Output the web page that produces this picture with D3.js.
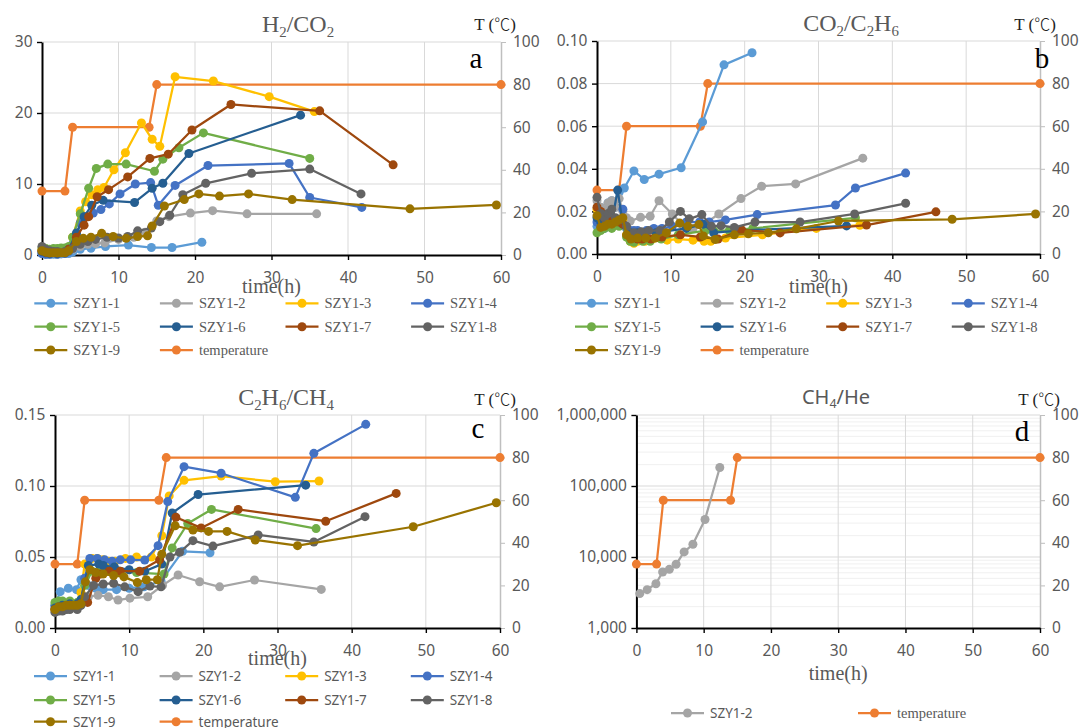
<!DOCTYPE html>
<html>
<head>
<meta charset="utf-8">
<script src="https://cdn.jsdelivr.net/npm/d3@7"></script>
<style>
  body { margin: 0; background: #fff; }
  svg { display: block; }
</style>
</head>
<body>
<svg id="chart" width="1082" height="728"></svg>
<script>
// ---- data -------------------------------------------------------------
const seriesNames = ["SZY1-1", "SZY1-2", "SZY1-3", "SZY1-4", "SZY1-5", "SZY1-6", "SZY1-7", "SZY1-8", "SZY1-9"];
const seriesColors = ["#5B9BD5", "#A5A5A5", "#FFC000", "#4472C4", "#70AD47", "#255E91", "#9E480E", "#636363", "#997300"];
const tempName = "temperature";
const tempColor = "#ED7D31";
const tempTime = [0, 3, 4, 14, 15, 60];
const tempValue = [30, 30, 60, 60, 80, 80];
const xTicks = [0, 10, 20, 30, 40, 50, 60];

// H2/CO2, [time(h), ratio] for SZY1-1 .. SZY1-9
const h2co2 = [
  [[0,0.2],[0.5,0.1],[1,0.1],[1.5,0.1],[2,0.1],[2.5,0.15],[3,0.2],[3.5,0.2],[4,0.4],[5,0.8],[6.4,0.95],[8.3,1.2],[11.3,1.4],[14.3,1.05],[17,1.05],[20.9,1.8]],
  [[0,0.5],[0.5,0.4],[1,0.3],[1.5,0.3],[2,0.3],[2.5,0.3],[3,0.4],[4,0.8],[5,1.2],[6,1.5],[7,1.6],[8.2,1.7],[10,2.2],[12,2.5],[13.5,3.2],[15,4.8],[16.6,5.4],[19.4,5.9],[22.3,6.25],[26.8,5.8],[35.9,5.8]],
  [[0,0.7],[0.5,0.5],[1,0.4],[2,0.4],[3,0.5],[3.5,1],[4,2.5],[5,6.2],[5.7,7.5],[6.5,8.5],[7.3,9.2],[8.1,9.5],[9.4,12.0],[10.9,14.4],[13,18.6],[14.4,16.3],[15.4,15.3],[17.4,25.1],[22.4,24.5],[29.7,22.3],[35.6,20.2]],
  [[0,0.2],[0.5,0.1],[1,0.1],[2,0.1],[3,0.2],[3.5,0.5],[4,1.5],[4.5,2.8],[5,4.5],[5.5,5.4],[6.7,5.9],[7.7,6.4],[8.8,7.2],[10.2,8.6],[12.2,10.0],[14.2,10.2],[15.2,7.0],[17.4,9.8],[21.7,12.6],[32.3,12.9],[35,8.1],[41.8,6.7]],
  [[0,1.0],[0.5,0.9],[1,0.8],[1.5,0.9],[2,0.9],[2.5,1.0],[3,1.0],[3.5,1.2],[4,2.5],[5,5.8],[6.1,9.4],[7.1,12.2],[8.6,12.8],[11,12.8],[14.7,11.8],[15.8,13.5],[17.9,15.1],[21.1,17.2],[35,13.6]],
  [[0,0.5],[0.5,0.3],[1,0.2],[2,0.2],[3,0.3],[3.5,0.8],[4.5,3.1],[5.5,5.4],[6.5,7.0],[8,7.7],[12.1,7.4],[14.4,9.4],[15.8,10.1],[19.2,14.3],[33.8,19.7]],
  [[0,0.6],[0.5,0.4],[1,0.3],[2,0.3],[3,0.4],[3.5,0.8],[4.5,2.5],[5.5,4.2],[6.1,5.4],[7.2,8.2],[8.7,9.2],[11.2,11.0],[14.1,13.6],[16.5,14.2],[19.6,17.6],[24.7,21.2],[36.3,20.3],[45.9,12.7]],
  [[0,1.2],[0.5,0.8],[1,0.6],[1.5,0.5],[2,0.5],[3,0.5],[4,0.9],[5,1.5],[6,1.9],[7,2.2],[8.5,2.5],[10,2.4],[11.2,2.6],[12.5,3.4],[14.3,3.8],[15.4,4.7],[16.7,5.6],[18.4,8.5],[21.4,10.1],[27.4,11.5],[35,12.1],[41.7,8.6]],
  [[0,0.6],[0.5,0.4],[1,0.3],[1.5,0.3],[2,0.3],[2.5,0.3],[3,0.3],[3.5,0.6],[4.5,1.9],[5.4,2.35],[6.4,2.5],[7.8,3.05],[9.3,2.6],[11,2.35],[12.5,2.6],[13.8,2.7],[14.4,4.1],[16,6.9],[18.6,7.8],[20.5,8.6],[23.2,8.3],[27,8.6],[32.7,7.8],[48.1,6.5],[59.4,7.05]]
];

// CO2/C2H6
const co2c2h6 = [
  [[0,0.013],[0.5,0.015],[1,0.02],[1.5,0.024],[2,0.025],[2.5,0.022],[3,0.029],[3.7,0.031],[5,0.039],[6.4,0.035],[8.4,0.0375],[11.4,0.0405],[14.3,0.062],[17.2,0.0888],[21,0.0945]],
  [[0,0.025],[0.5,0.022],[1,0.02],[1.5,0.024],[2,0.025],[2.5,0.022],[3,0.026],[3.5,0.02],[4,0.017],[4.5,0.0155],[5.9,0.0172],[7.2,0.0177],[8.4,0.025],[10.2,0.0188],[11.5,0.014],[13,0.012],[14.5,0.014],[16.5,0.0188],[19.5,0.026],[22.3,0.0318],[26.9,0.0329],[36,0.045]],
  [[0,0.021],[0.5,0.015],[1,0.013],[2,0.013],[3,0.015],[3.5,0.016],[4,0.009],[4.5,0.006],[5,0.005],[5.5,0.006],[6.5,0.006],[7.5,0.007],[9.5,0.0065],[11,0.007],[13,0.0065],[14.5,0.006],[15.4,0.006],[17.4,0.0075],[22.4,0.009],[29.7,0.012],[35.6,0.0135]],
  [[0,0.015],[0.5,0.013],[1,0.012],[2,0.013],[3,0.016],[3.5,0.021],[4,0.012],[4.5,0.011],[5,0.011],[5.5,0.011],[6.7,0.011],[7.7,0.012],[8.8,0.012],[10.2,0.013],[12.1,0.015],[13.9,0.015],[15.2,0.015],[17.4,0.016],[21.7,0.0185],[32.3,0.023],[35,0.031],[41.8,0.038]],
  [[0,0.01],[0.5,0.011],[1,0.012],[2,0.012],[3,0.013],[3.5,0.014],[4,0.008],[4.5,0.006],[5,0.0055],[6.2,0.006],[7.2,0.006],[8.7,0.007],[11,0.009],[14.7,0.011],[15.8,0.011],[17.9,0.011],[21.1,0.012],[35,0.017]],
  [[0,0.017],[0.5,0.015],[1,0.014],[2,0.015],[2.8,0.03],[3.5,0.014],[4.5,0.01],[5.5,0.01],[6.5,0.01],[8,0.01],[12.1,0.012],[14.4,0.014],[15.8,0.01],[19.3,0.011],[33.8,0.0132]],
  [[0,0.022],[0.5,0.02],[1,0.017],[2,0.016],[3,0.015],[3.5,0.014],[4.5,0.008],[5.5,0.007],[6.1,0.007],[7.3,0.007],[8.8,0.008],[11.3,0.009],[14,0.008],[16.4,0.007],[19.6,0.0113],[24.8,0.0099],[36.5,0.0136],[45.9,0.0198]],
  [[0,0.0266],[0.5,0.019],[1,0.017],[1.5,0.019],[2,0.021],[2.5,0.017],[3,0.016],[4,0.013],[5,0.01],[6,0.0105],[7,0.011],[8.5,0.011],[9.8,0.015],[11.3,0.02],[12.5,0.0165],[14.2,0.0185],[15.5,0.013],[16.8,0.0133],[18.6,0.0125],[21.4,0.015],[27.5,0.015],[34.9,0.0188],[41.8,0.0238]],
  [[0,0.018],[0.5,0.0125],[1,0.013],[1.5,0.014],[2,0.014],[2.5,0.015],[3,0.016],[3.5,0.017],[4,0.009],[4.6,0.007],[5.5,0.0075],[6.6,0.0075],[7.9,0.0075],[9.4,0.01],[11.2,0.0145],[12.3,0.013],[13.8,0.0138],[14.4,0.0085],[16,0.0068],[18.6,0.009],[20.5,0.0095],[23.2,0.01],[27,0.0118],[32.7,0.0155],[48.1,0.0163],[59.4,0.0188]]
];

// C2H6/CH4
const c2h6ch4 = [
  [[0,0.016],[0.7,0.0256],[1.8,0.028],[2.9,0.027],[3.5,0.034],[4.5,0.03],[5.5,0.028],[6.5,0.027],[8.3,0.027],[10,0.028],[12,0.029],[14.3,0.033],[17.2,0.054],[20.9,0.053]],
  [[0,0.012],[0.5,0.013],[1,0.013],[1.5,0.013],[2,0.014],[3,0.014],[3.5,0.016],[4.5,0.022],[5.8,0.023],[7.2,0.022],[8.5,0.0197],[10.1,0.021],[12.5,0.022],[14.5,0.03],[16.6,0.0373],[19.5,0.0326],[22.2,0.029],[26.9,0.0338],[35.9,0.0272]],
  [[0,0.013],[0.5,0.014],[1,0.015],[2,0.015],[3,0.016],[3.5,0.025],[4,0.045],[5,0.049],[5.7,0.049],[6.5,0.048],[7.2,0.047],[8.1,0.047],[9.5,0.049],[11,0.05],[13,0.05],[14.4,0.065],[15.4,0.093],[17.4,0.104],[22.4,0.107],[29.7,0.103],[35.6,0.1035]],
  [[0,0.016],[0.5,0.015],[1,0.015],[1.5,0.015],[2,0.015],[3,0.016],[3.5,0.018],[4,0.035],[4.7,0.049],[5.7,0.049],[6.7,0.048],[7.7,0.047],[8.8,0.048],[10.2,0.048],[12.1,0.0478],[13.9,0.058],[15.2,0.089],[17.4,0.1136],[22.4,0.109],[32.4,0.092],[34.9,0.123],[41.9,0.1434]],
  [[0,0.018],[0.5,0.019],[1,0.019],[2,0.019],[3,0.018],[3.5,0.02],[4,0.03],[5,0.04],[6.2,0.041],[7.2,0.041],[8.7,0.04],[11,0.039],[14.7,0.038],[15.8,0.0564],[17.9,0.0736],[21.1,0.0835],[35.2,0.07]],
  [[0,0.014],[0.5,0.015],[1,0.016],[2,0.017],[3,0.017],[3.5,0.02],[4.5,0.044],[5.9,0.045],[6.5,0.044],[8,0.043],[10,0.041],[12.1,0.04],[14.4,0.045],[15.8,0.081],[19.3,0.094],[33.8,0.1006]],
  [[0,0.013],[0.5,0.014],[1,0.014],[2,0.015],[3,0.016],[3.5,0.017],[4.4,0.018],[5.5,0.035],[6.1,0.038],[7.3,0.04],[8.8,0.04],[11.4,0.04],[14.1,0.048],[16.3,0.078],[19.7,0.0705],[24.7,0.0835],[36.5,0.0752],[46,0.0948]],
  [[0,0.011],[0.5,0.012],[1,0.012],[1.5,0.013],[2,0.013],[3,0.013],[3.5,0.016],[4,0.022],[5.2,0.03],[6.5,0.031],[7.9,0.0315],[9.4,0.029],[11.2,0.0256],[12.8,0.0295],[14.3,0.029],[15.5,0.05],[16.8,0.0533],[18.6,0.0615],[21.3,0.0577],[27.4,0.0655],[34.9,0.0606],[41.8,0.0784]],
  [[0,0.013],[0.5,0.015],[1,0.015],[1.5,0.016],[2,0.016],[2.5,0.016],[3,0.016],[3.5,0.017],[4.1,0.0325],[4.7,0.041],[5.5,0.039],[6.5,0.038],[7.9,0.037],[9.3,0.036],[11.1,0.032],[12.3,0.034],[13.8,0.034],[14.4,0.052],[16.2,0.072],[18.6,0.069],[20.7,0.068],[23.2,0.068],[27,0.062],[32.7,0.058],[48.3,0.0713],[59.5,0.0882]]
];

// CH4/He, only SZY1-2
const ch4heTime = [0.5, 1.6, 2.9, 3.9, 4.9, 5.9, 7.1, 8.4, 10.2, 12.4];
const ch4heValue = [3050, 3470, 4200, 6150, 6700, 7900, 11800, 15100, 33800, 182000];

// ---- drawing ----------------------------------------------------------
const svg = d3.select("#chart");
const SERIF = "'Liberation Serif','Times New Roman',serif";
const SANS = "'Noto Sans','Open Sans',sans-serif";
const CJK = "'Noto Sans CJK SC',sans-serif";
const TXT = "#595959";

function styleAxis(sel, color, width) {
  sel.attr("font-family", null).attr("font-size", null);
  sel.select(".domain").attr("stroke", color).attr("stroke-width", width);
  sel.selectAll(".tick line").attr("stroke", color).attr("stroke-width", width * 0.7);
  sel.selectAll(".tick text").attr("fill", TXT).style("font-family", SANS).style("font-size", "15.5px");
}

function titleText(x, y, parts, font, size) {
  const t = svg.append("text").attr("x", x).attr("y", y).attr("text-anchor", "middle")
    .attr("fill", TXT).style("font-family", font).style("font-size", size + "px");
  const shift = size * 0.22;
  let down = false;
  parts.forEach(([s, sub]) => {
    const sp = t.append("tspan").text(s);
    if (sub && !down) { sp.attr("dy", shift).style("font-size", (size * 0.62) + "px"); down = true; }
    else if (!sub && down) { sp.attr("dy", -shift); down = false; }
  });
}

function drawPanel(p) {
  const g = svg.append("g");
  const x = d3.scaleLinear().domain([0, 60]).range([p.l, p.r]);
  const y = (p.log ? d3.scaleLog() : d3.scaleLinear()).domain(p.yDomain).range([p.b, p.t]);
  const yT = d3.scaleLinear().domain([0, 100]).range([p.b, p.t]);

  // gridlines
  if (p.log) {
    const minor = [];
    for (let e = 3; e < 6; e++) for (let k = 2; k < 10; k++) minor.push(k * Math.pow(10, e));
    g.selectAll(null).data(minor).join("line")
      .attr("x1", p.l).attr("x2", p.r).attr("y1", d => y(d)).attr("y2", d => y(d))
      .attr("stroke", "#f0f0f0").attr("stroke-width", 1);
  }
  g.selectAll(null).data(p.yTicks.slice(1)).join("line")
    .attr("x1", p.l).attr("x2", p.r).attr("y1", d => y(d)).attr("y2", d => y(d))
    .attr("stroke", "#d9d9d9").attr("stroke-width", 1);
  g.selectAll(null).data(xTicks.slice(1, -1)).join("line")
    .attr("x1", d => x(d)).attr("x2", d => x(d)).attr("y1", p.t).attr("y2", p.b)
    .attr("stroke", "#d9d9d9").attr("stroke-width", 1);

  // axes
  g.append("g").attr("transform", `translate(${p.r},0)`)
    .call(d3.axisRight(yT).tickValues([0, 20, 40, 60, 80, 100]).tickSize(5).tickSizeOuter(0).tickPadding(7))
    .call(s => styleAxis(s, "#bfbfbf", 1.5));
  g.append("g").attr("transform", `translate(${p.l},0)`)
    .call(d3.axisLeft(y).tickValues(p.yTicks).tickFormat(p.fmt).tickSize(5).tickSizeOuter(0).tickPadding(4.5))
    .call(s => styleAxis(s, "#000", 2));
  g.append("g").attr("transform", `translate(0,${p.b})`)
    .call(d3.axisBottom(x).tickValues(xTicks).tickSize(5).tickSizeOuter(0).tickPadding(11.5))
    .call(s => styleAxis(s, "#000", 2));

  // series: temperature first, then samples
  const all = [{ pts: tempTime.map((t, i) => [t, tempValue[i]]), color: tempColor, yy: yT }]
    .concat(p.series.map((pts, i) => ({ pts, color: p.colors[i], yy: y })));
  all.forEach(s => {
    const line = d3.line().x(d => x(d[0])).y(d => s.yy(d[1]));
    g.append("path").attr("d", line(s.pts)).attr("fill", "none")
      .attr("stroke", s.color).attr("stroke-width", 2.25).attr("stroke-linejoin", "round");
    g.selectAll(null).data(s.pts).join("circle")
      .attr("cx", d => x(d[0])).attr("cy", d => s.yy(d[1])).attr("r", 4.5).attr("fill", s.color);
  });

  // texts
  titleText(p.titleX, p.titleY, p.title, p.titleFont, p.titleSize);
  const unit = svg.append("text").attr("x", p.unitX).attr("y", p.unitY).attr("text-anchor", "middle")
    .attr("fill", "#222").style("font-family", SERIF).style("font-size", "17px");
  unit.append("tspan").text("T (");
  unit.append("tspan").style("font-family", CJK).style("font-weight", 300).style("font-size", "16px").text("℃");
  unit.append("tspan").text(")");
  svg.append("text").attr("x", p.letterX).attr("y", p.letterY).attr("text-anchor", "middle")
    .attr("fill", "#000").style("font-family", SERIF).style("font-size", "29px").text(p.letter);
  svg.append("text").attr("x", (p.l + p.r) / 2).attr("y", p.timeY).attr("text-anchor", "middle")
    .attr("fill", TXT).style("font-family", SERIF).style("font-size", "20px").text("time(h)");

  // legend
  p.legend.forEach(it => {
    const lg = svg.append("g");
    lg.append("line").attr("x1", it.x - 39).attr("x2", it.x - 6).attr("y1", it.y).attr("y2", it.y)
      .attr("stroke", it.color).attr("stroke-width", 2.25);
    lg.append("circle").attr("cx", it.x - 22.5).attr("cy", it.y).attr("r", 4.5).attr("fill", it.color);
    lg.append("text").attr("x", it.x).attr("y", it.y + 5).attr("fill", TXT)
      .style("font-family", it.font).style("font-size", it.font === SERIF ? "14.5px" : "13.5px").text(it.name);
  });
}

function gridLegend(x0, rowY, font) {
  const items = seriesNames.map((n, i) => ({ name: n, color: seriesColors[i] }))
    .concat([{ name: tempName, color: tempColor }]);
  return items.map((it, i) => ({
    ...it, font,
    x: x0 + (i % 4) * 125.6,
    y: rowY[Math.floor(i / 4)]
  }));
}

const f2 = d3.format(".2f");

drawPanel({
  l: 42, r: 501, t: 42, b: 255,
  yDomain: [0, 30], yTicks: [0, 10, 20, 30], fmt: d3.format("d"),
  series: h2co2, colors: seriesColors,
  title: [["H"], ["2", true], ["/CO"], ["2", true]], titleFont: SERIF, titleSize: 24, titleX: 298, titleY: 32,
  unitX: 495, unitY: 30, letter: "a", letterX: 476, letterY: 68, timeY: 293,
  legend: gridLegend(73.3, [303.3, 326.7, 350], SERIF)
});

drawPanel({
  l: 597, r: 1040, t: 41, b: 254,
  yDomain: [0, 0.1], yTicks: [0, 0.02, 0.04, 0.06, 0.08, 0.1], fmt: f2,
  series: co2c2h6, colors: seriesColors,
  title: [["CO"], ["2", true], ["/C"], ["2", true], ["H"], ["6", true]], titleFont: SERIF, titleSize: 24, titleX: 851, titleY: 31,
  unitX: 1035, unitY: 30, letter: "b", letterX: 1042, letterY: 68, timeY: 293,
  legend: gridLegend(614, [303.3, 326.7, 350], SERIF)
});

drawPanel({
  l: 55, r: 500, t: 415, b: 628,
  yDomain: [0, 0.15], yTicks: [0, 0.05, 0.1, 0.15], fmt: f2,
  series: c2h6ch4, colors: seriesColors,
  title: [["C"], ["2", true], ["H"], ["6", true], ["/CH"], ["4", true]], titleFont: SERIF, titleSize: 24, titleX: 286, titleY: 405,
  unitX: 495, unitY: 405, letter: "c", letterX: 478, letterY: 438, timeY: 665,
  legend: gridLegend(73, [676, 700, 721.7], SANS)
});

drawPanel({
  l: 636.4, r: 1040, t: 415, b: 628, log: true,
  yDomain: [1000, 1000000], yTicks: [1000, 10000, 100000, 1000000], fmt: d3.format(","),
  series: [ch4heTime.map((t, i) => [t, ch4heValue[i]])], colors: [seriesColors[1]],
  title: [["CH"], ["4", true], ["/He"]], titleFont: SANS, titleSize: 20, titleX: 836, titleY: 404,
  unitX: 1039, unitY: 405, letter: "d", letterX: 1022, letterY: 441, timeY: 680,
  legend: [
    { name: seriesNames[1], color: seriesColors[1], font: SANS, x: 710, y: 713 },
    { name: tempName, color: tempColor, font: SERIF, x: 897, y: 713 }
  ]
});
</script>
</body>
</html>
